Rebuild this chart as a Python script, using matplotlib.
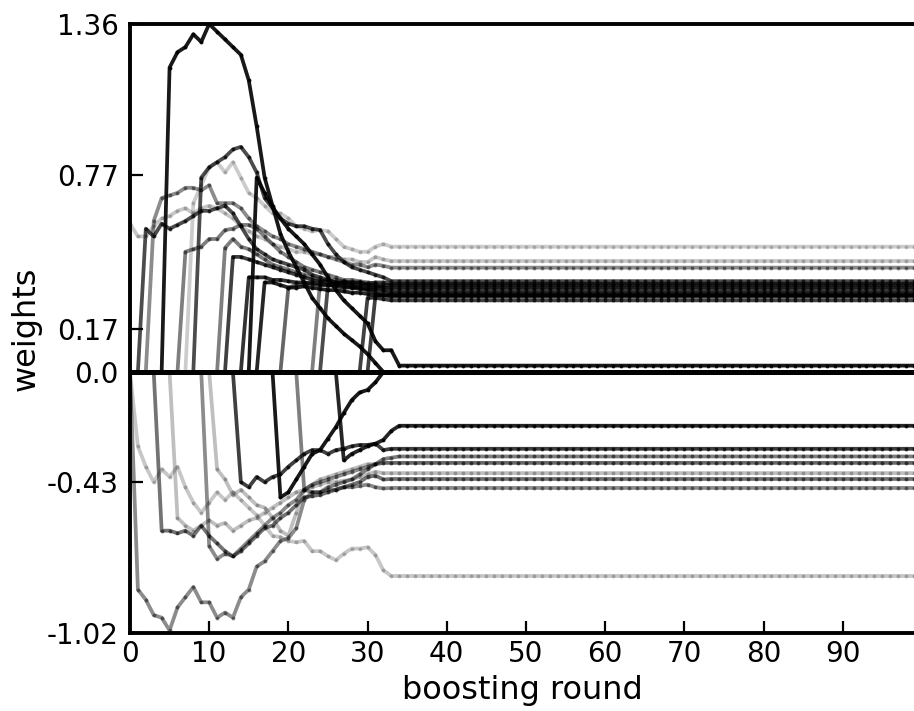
import numpy as np
import matplotlib
matplotlib.use('Agg')
import matplotlib.pyplot as plt

# boosting rounds shown on the x axis
n_rounds = 100
rounds = np.arange(n_rounds)

# weight paths: (alpha, first round, values from that round on)
# each path keeps its last value for the remaining rounds
pos_paths = [
    (0.22, 0, [0.58, 0.53, 0.53, 0.57, 0.60, 0.61, 0.63, 0.64, 0.62, 0.64, 0.65, 0.64, 0.62, 0.60,
               0.57, 0.55, 0.53, 0.52, 0.50, 0.49, 0.48, 0.47, 0.47, 0.46, 0.46, 0.45, 0.45, 0.44,
               0.44, 0.43, 0.43, 0.45, 0.44, 0.434]),
    (0.20, 8, [0.66, 0.73, 0.80, 0.82, 0.78, 0.82, 0.76, 0.70, 0.68, 0.65, 0.62, 0.62, 0.60, 0.57,
               0.56, 0.55, 0.555, 0.55, 0.52, 0.49, 0.48, 0.47, 0.47, 0.49, 0.50, 0.49]),
    (0.45, 3, [0.59, 0.68, 0.69, 0.70, 0.72, 0.72, 0.71, 0.73, 0.66, 0.66, 0.66, 0.64, 0.60, 0.57,
               0.55, 0.53, 0.52, 0.50, 0.49, 0.48, 0.47, 0.46, 0.45, 0.44, 0.43, 0.42, 0.42, 0.41,
               0.42, 0.415, 0.408]),
    (0.50, 7, [0.47, 0.48, 0.49, 0.52, 0.52, 0.555, 0.56, 0.575, 0.575, 0.56, 0.53, 0.50, 0.47,
               0.45, 0.43, 0.41, 0.40, 0.39, 0.38, 0.37, 0.36, 0.36, 0.355, 0.35, 0.345, 0.34, 0.34]),
    (0.50, 12, [0.485, 0.52, 0.49, 0.48, 0.46, 0.44, 0.42, 0.41, 0.40, 0.39, 0.38, 0.37, 0.36, 0.36,
                0.35, 0.35, 0.34, 0.34, 0.335, 0.33, 0.32, 0.315]),
    (0.50, 24, [0.35, 0.36, 0.36, 0.355, 0.35, 0.35, 0.34, 0.33, 0.34, 0.34]),
    (0.60, 20, [0.33, 0.34, 0.345, 0.35, 0.345, 0.34, 0.34, 0.335, 0.33, 0.33, 0.325, 0.33, 0.33, 0.325]),
    (0.70, 2, [0.56, 0.53, 0.58, 0.56, 0.575, 0.59, 0.61, 0.63, 0.63, 0.64, 0.65, 0.62, 0.57, 0.52,
               0.48, 0.46, 0.44, 0.43, 0.42, 0.41, 0.40, 0.38, 0.37, 0.36, 0.35, 0.35, 0.345, 0.34,
               0.34, 0.34, 0.33, 0.33]),
    (0.70, 9, [0.76, 0.80, 0.82, 0.84, 0.87, 0.88, 0.84, 0.78, 0.68, 0.64, 0.60, 0.58, 0.57, 0.57,
               0.56, 0.555, 0.50, 0.46, 0.43, 0.41, 0.40, 0.39, 0.38, 0.37, 0.355]),
    (0.70, 25, [0.34, 0.345, 0.35, 0.35, 0.35, 0.345, 0.35, 0.35, 0.345]),
    (0.75, 13, [0.45, 0.45, 0.44, 0.43, 0.42, 0.41, 0.40, 0.39, 0.38, 0.37, 0.36, 0.355, 0.35, 0.345,
                0.34, 0.335, 0.33, 0.325, 0.32, 0.315, 0.31]),
    (0.75, 30, [0.29, 0.29, 0.285, 0.28]),
    (0.75, 31, [0.30, 0.30, 0.295]),
    (0.80, 15, [0.37, 0.37, 0.37, 0.36, 0.36, 0.355, 0.35, 0.35, 0.345, 0.34, 0.34, 0.335, 0.33,
                0.33, 0.325, 0.32, 0.31, 0.30, 0.30]),
    (0.85, 17, [0.35, 0.35, 0.34, 0.33, 0.33, 0.335, 0.33, 0.325, 0.32, 0.32, 0.315, 0.31, 0.31,
                0.305, 0.30, 0.30, 0.30]),
    (0.90, 16, [0.76, 0.70, 0.645, 0.60, 0.56, 0.53, 0.50, 0.46, 0.42, 0.37, 0.32, 0.28, 0.25, 0.22,
                0.19, 0.12, 0.085, 0.085, 0.025]),
    (0.90, 5, [1.19, 1.25, 1.27, 1.32, 1.29, 1.36, 1.33, 1.30, 1.27, 1.24, 1.14, 0.96, 0.76, 0.65,
               0.54, 0.47, 0.41, 0.35, 0.29, 0.25, 0.21, 0.18, 0.15, 0.125, 0.10, 0.07, 0.035, 0.0]),
]

neg_paths = [
    (0.22, 1, [-0.29, -0.37, -0.43, -0.38, -0.41, -0.37, -0.45, -0.51, -0.55, -0.51, -0.47, -0.50,
               -0.47, -0.50, -0.53, -0.56, -0.60, -0.64, -0.645, -0.66, -0.665, -0.66, -0.70, -0.70,
               -0.72, -0.735, -0.71, -0.69, -0.69, -0.685, -0.715, -0.775, -0.797]),
    (0.25, 6, [-0.57, -0.60, -0.62, -0.60, -0.58, -0.60, -0.59, -0.62, -0.60, -0.58, -0.57, -0.55,
               -0.53, -0.51, -0.49, -0.47, -0.46, -0.45, -0.44, -0.43, -0.43, -0.425, -0.42, -0.41,
               -0.40, -0.39, -0.395, -0.395]),
    (0.25, 11, [-0.38, -0.42, -0.48, -0.46, -0.49, -0.52, -0.53, -0.57, -0.62, -0.64, -0.55, -0.46,
                -0.44, -0.42, -0.41, -0.40, -0.39, -0.38, -0.37, -0.36, -0.36, -0.355, -0.355]),
    (0.45, 1, [-0.85, -0.89, -0.95, -0.96, -1.01, -0.92, -0.88, -0.84, -0.90, -0.90, -0.96, -0.94,
               -0.96, -0.88, -0.85, -0.76, -0.74, -0.70, -0.66, -0.65, -0.61, -0.50, -0.47, -0.47,
               -0.46, -0.46, -0.45, -0.45, -0.445, -0.44, -0.45, -0.455, -0.453]),
    (0.45, 10, [-0.68, -0.73, -0.71, -0.72, -0.69, -0.66, -0.63, -0.60, -0.57, -0.55, -0.52, -0.50,
                -0.46, -0.44, -0.43, -0.42, -0.41, -0.40, -0.39, -0.38, -0.37, -0.36, -0.355, -0.355]),
    (0.50, 22, [-0.46, -0.47, -0.47, -0.45, -0.44, -0.43, -0.42, -0.40, -0.38, -0.36, -0.34, -0.335,
                -0.33]),
    (0.55, 4, [-0.62, -0.62, -0.63, -0.62, -0.64, -0.60, -0.64, -0.67, -0.70, -0.72, -0.70, -0.67,
               -0.64, -0.61, -0.60, -0.57, -0.55, -0.52, -0.49, -0.485, -0.48, -0.47, -0.46, -0.45,
               -0.44, -0.43, -0.41, -0.405, -0.42, -0.418]),
    (0.75, 14, [-0.43, -0.45, -0.41, -0.43, -0.41, -0.40, -0.37, -0.345, -0.32, -0.305, -0.305,
                -0.32, -0.305, -0.30, -0.29, -0.285, -0.285, -0.28, -0.305, -0.30]),
    (0.85, 27, [-0.345, -0.32, -0.305, -0.29, -0.28, -0.265, -0.23, -0.21]),
    (0.90, 19, [-0.49, -0.47, -0.42, -0.37, -0.32, -0.305, -0.26, -0.215, -0.16, -0.11, -0.08,
                -0.07, -0.04, 0.0]),
]

ytick_vals = [-1.02, -0.43, 0.0, 0.17, 0.77, 1.36]
ytick_labels = ['-1.02', '-0.43', '0.0', '0.17', '0.77', '1.36']
xtick_vals = list(range(0, 100, 10))


def full_path(start, vals):
    """Zeros before the feature enters, then its values, then hold the last one."""
    tail = n_rounds - start - len(vals)
    return np.array([0.0] * start + vals + [vals[-1]] * tail)


fig = plt.figure(figsize=(9.14, 7.11), dpi=100)
ax = fig.add_axes([0.1422, 0.1097, 0.8578, 0.8565])

paths = sorted(pos_paths + neg_paths, key=lambda p: p[0])
for alpha, start, vals in paths:
    ax.plot(rounds, full_path(start, vals), color='k', alpha=alpha, lw=2.7,
            marker='o', ms=2.8, mew=0)

ax.axhline(0, color='k', lw=3.6, zorder=3)

ax.set_xlim(0, 99)
ax.set_ylim(-1.02, 1.36)
ax.set_yticks(ytick_vals)
ax.set_yticklabels(ytick_labels)
ax.set_xticks(xtick_vals)

for side in ['left', 'top', 'bottom']:
    ax.spines[side].set_linewidth(2.8)
ax.spines['right'].set_visible(False)

ax.tick_params(direction='in', length=9, width=1.6, labelsize=20)
ax.tick_params(axis='y', pad=8)
ax.tick_params(axis='x', pad=5)

ax.set_xlabel('boosting round', fontsize=23, labelpad=5)
ax.set_ylabel('weights', fontsize=23, labelpad=4)

plt.savefig('out.png', dpi=100)
